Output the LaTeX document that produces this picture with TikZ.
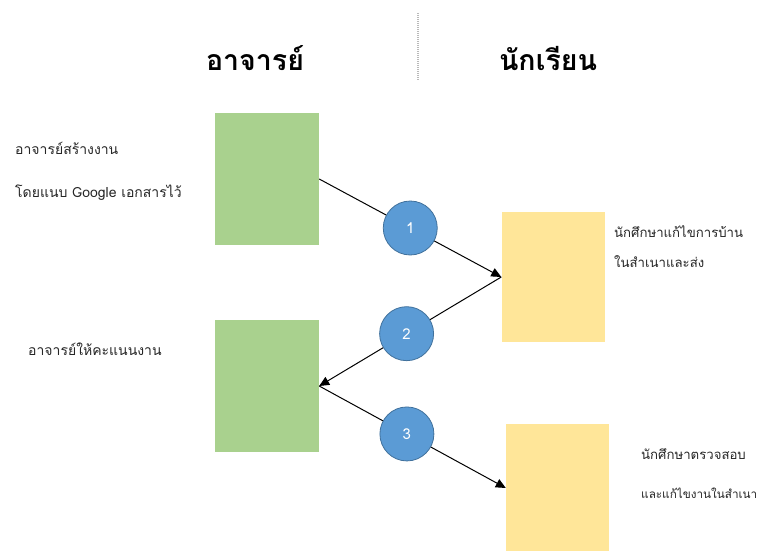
\documentclass[tikz,border=0pt]{standalone}
\usepackage{fontspec}
\newfontfamily\thaifont[Script=Thai]{Loma}
\usetikzlibrary{arrows.meta}

\definecolor{boxgreen}{HTML}{A9D18E}
\definecolor{boxyellow}{HTML}{FFE699}
\definecolor{stepblue}{HTML}{5B9BD5}
\definecolor{stepedge}{HTML}{41719C}
\definecolor{txtgray}{HTML}{262626}

\begin{document}
\begin{tikzpicture}
  [
    x=1pt, y=-1pt,
    tbox/.style =
      {rectangle, fill=boxgreen, minimum width=104pt, minimum height=132pt},
    sbox/.style =
      {rectangle, fill=boxyellow, minimum width=103pt, minimum height=130pt},
    stepc/.style =
      {circle, fill=stepblue, draw=stepedge, line width=0.8pt, minimum size=54pt,
       text=white, font=\thaifont\fontsize{15}{15}\selectfont},
    note/.style =
      {anchor=west, inner sep=0pt, text=txtgray, font=\thaifont\fontsize{14}{14}\selectfont},
    rnote/.style =
      {note, font=\thaifont\fontsize{13.2}{13.5}\selectfont},
    head/.style =
      {inner sep=0pt, font=\thaifont\bfseries\fontsize{28.5}{29}\selectfont},
    sarrow/.style =
      {-{Triangle[length=10pt, width=9pt]}, line width=1pt}
  ]

\useasboundingbox (0,0) rectangle (761,551);

% column headings
\node[head] (ht) at (255,58) {อาจารย์};
\node[head] (hs) at (548,58) {นักเรียน};
\draw [gray!55, line width=1.5pt, dash pattern=on 1pt off 1pt] (418,13) -- (418,80);

% teacher side
\node[tbox] (t1) at (267,179) {};
\node[tbox] (t2) at (267,386) {};

% student side
\node[sbox] (s1) at (553,277) {};
\node[sbox, minimum height=128pt] (s2) at (557.5,488) {};

% notes
\node[note] (n1) at (15,148) {อาจารย์สร้างงาน};
\node[note] (n2) at (15,193) {โดยแนบ Google เอกสารไว้};
\node[note] (n3) at (28,349) {อาจารย์ให้คะแนนงาน};
\node[rnote] (n4) at (614,232) {นักศึกษาแก้ไขการบ้าน};
\node[rnote] (n5) at (614,262) {ในสำเนาและส่ง};
\node[rnote] (n6) at (641,454) {นักศึกษาตรวจสอบ};
\node[rnote] (n7) at (641,493) {\resizebox{116pt}{!}{และแก้ไขงานในสำเนา}};

% steps
\draw [sarrow] (t1.east) -- (s1.west) node[stepc, pos=.5] (c1) {1};
\draw [sarrow] (s1.west) -- (t2.east) node[stepc, pos=.52] (c2) {2};
\draw [sarrow] (t2.east) -- (s2.west) node[stepc, pos=.47] (c3) {3};

\end{tikzpicture}
\end{document}
